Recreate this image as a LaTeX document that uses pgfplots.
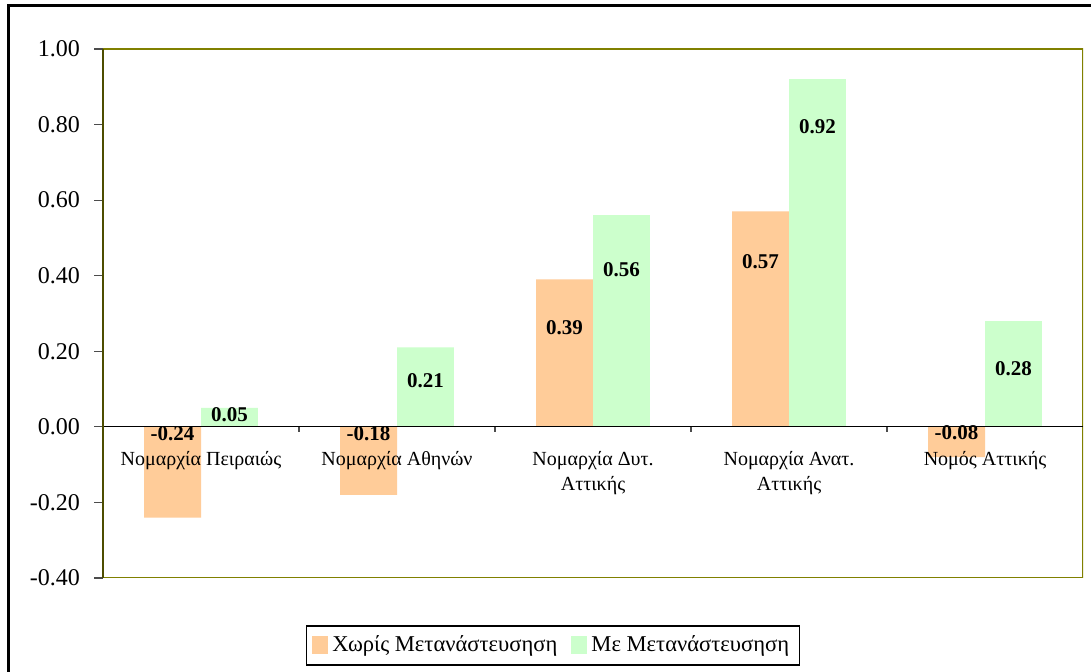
\documentclass[border=0pt]{standalone}
\usepackage{pgfplots}
\pgfplotsset{compat=1.18}
\usepackage{fontspec}
\setmainfont{Liberation Serif}
\definecolor{orangebar}{HTML}{FFCC99}
\definecolor{greenbar}{HTML}{CCFFCC}
\definecolor{frameolive}{HTML}{808000}
\begin{document}
\begin{tikzpicture}
\useasboundingbox (0,0) rectangle (545.5pt,336pt);
\fill[white] (0,0) rectangle (545.5pt,336pt);
\draw[line width=1.5pt] (4pt,-5pt) -- (4pt,333pt) -- (560pt,333pt);
\begin{axis}[
  at={(51.5pt,47pt)}, anchor=south west,
  scale only axis, width=490pt, height=264.5pt,
  xmin=-0.5, xmax=4.5, ymin=-0.4, ymax=1.0,
  axis on top,
  axis x line*=middle, axis y line*=left,
  x axis line style={-, black, line width=0.6pt},
  y axis line style={-, draw=frameolive!60!black, line width=0.8pt},
  ytick={-0.4,-0.2,0,0.2,0.4,0.6,0.8,1.0},
  /pgf/number format/assume math mode=true,
  yticklabel shift=3.5pt,
  yticklabel style={font=\fontsize{12}{14}\selectfont,
    /pgf/number format/fixed, /pgf/number format/fixed zerofill,
    /pgf/number format/precision=2},
  xtick={0,1,2,3,4},
  xticklabels={Νομαρχία Πειραιώς, Νομαρχία Αθηνών, {Νομαρχία Δυτ.\\Αττικής}, {Νομαρχία Ανατ.\\Αττικής}, Νομός Αττικής},
  xticklabel style={align=center, font=\fontsize{10}{12.5}\selectfont, yshift=-4pt},
  every major x tick/.append style={draw=none},
  minor xtick={0.5,1.5,2.5,3.5},
  tick align=outside,
  tick style={black!70, line width=0.6pt},
  major tick length=4.5pt, minor tick length=2.5pt,
  legend columns=2,
  legend style={at={(0.459,-0.1276)}, anchor=center, draw=black, line width=0.6pt,
    font=\fontsize{11.3}{14}\selectfont, inner xsep=3pt, inner ysep=3pt,
    /tikz/every even column/.append style={column sep=5pt}},
  legend image code/.code={\fill[#1,draw=none] (0pt,-4.5pt) rectangle (8pt,4.5pt);},
]
\addplot[ybar, bar width=0.29, bar shift=-0.145, fill=orangebar, draw=none]
  coordinates {(0,-0.24) (1,-0.18) (2,0.39) (3,0.57) (4,-0.08)};
\addlegendentry{Χωρίς Μετανάστευσηση}
\addplot[ybar, bar width=0.29, bar shift=0.145, fill=greenbar, draw=none]
  coordinates {(0,0.05) (1,0.21) (2,0.56) (3,0.92) (4,0.28)};
\addlegendentry{Με Μετανάστευσηση}
\addplot[draw=none, mark=none, forget plot, nodes near coords, point meta=explicit symbolic,
  every node near coord/.append style={anchor=center, font=\bfseries\fontsize{10.5}{12}\selectfont, inner sep=0pt}]
  table[meta=label] {
x y label
-0.145 -0.019 -0.24
0.855 -0.019 -0.18
1.855 0.262 0.39
2.855 0.437 0.57
3.855 -0.016 -0.08
0.145 0.032 0.05
1.145 0.122 0.21
2.145 0.415 0.56
3.145 0.794 0.92
4.145 0.153 0.28
};
\draw[frameolive, line width=1pt] (rel axis cs:0,0) rectangle (rel axis cs:1,1);
\end{axis}
\end{tikzpicture}
\end{document}
